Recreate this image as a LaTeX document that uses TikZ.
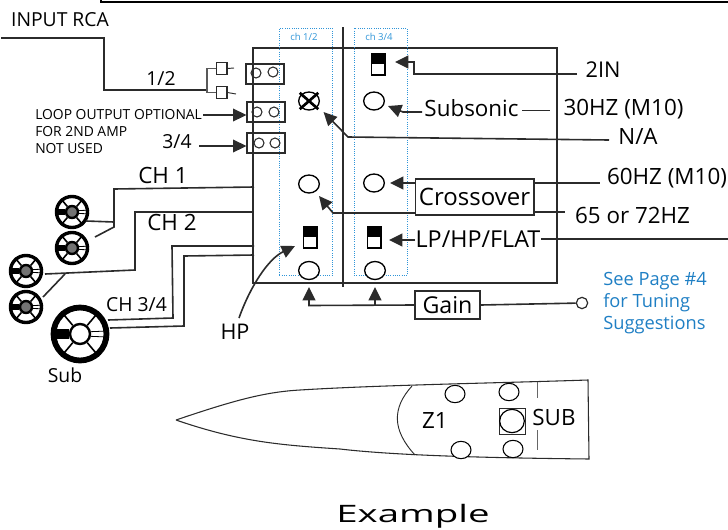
\documentclass[tikz,border=0pt]{standalone}
\usepackage{fontspec}
\setmainfont{Open Sans}
\usetikzlibrary{arrows.meta,shapes.geometric}
\definecolor{wirecol}{HTML}{2B2B2B}
\definecolor{notecol}{HTML}{1F7FC4}
\definecolor{chancol}{HTML}{2F95D8}
\colorlet{spkAcol}{black!55}
\colorlet{spkBcol}{black!55}
\colorlet{spkCcol}{black!55}
\colorlet{spkDcol}{black!55}
\colorlet{subcol}{white}
\tikzset{
  lab/.style={inner sep=0pt, text=black, font=\fontsize{16.8}{19}\selectfont},
  lowlab/.style={lab, font=\fontsize{14.5}{17}\selectfont},
  smalllab/.style={lab, font=\fontsize{10.4}{12.7}\selectfont, align=left},
  knob/.style={draw=black, line width=1pt, ellipse, minimum width=15.5pt,
    minimum height=13.5pt, inner sep=0pt, fill=white},
  jack/.style={draw=wirecol, line width=0.8pt, circle, minimum size=7.5pt, inner sep=0pt},
  rcabox/.style={draw=wirecol, line width=0.9pt, minimum width=28.5pt, minimum height=15pt, inner sep=0pt},
  plug/.style={draw=wirecol, line width=0.8pt, minimum width=8.2pt, minimum height=9.5pt, inner sep=0pt},
  ctrl/.style={draw=wirecol, line width=1pt, inner sep=0pt, text=black, fill=white},
  wire/.style={draw=wirecol, line width=1.2pt},
  arr/.style={wire, -{Triangle[length=10pt, width=9.5pt]}},
  chbox/.style={draw=chancol, line width=0.7pt, densely dotted},
  chlab/.style={inner sep=0pt, text=chancol, font=\fontsize{7.2}{8}\selectfont},
  note/.style={inner sep=0pt, text=notecol, align=left, font=\fontsize{13.7}{16.5}\selectfont}}
\newcommand{\switchbox}[3]{% name, x, y of the upper left corner
  \node[draw=black, line width=1.1pt, minimum width=10pt, minimum height=16pt, inner sep=0pt, anchor=north west] (#1) at (#2,#3) {};
  \fill[black] (#1.north west) rectangle (#1.east);}
\newcommand{\speaker}[5]{% name, x, y, radius, hub radius
  \node[draw=black, circle, line width=#4*0.15pt, minimum size=#4*1.37pt, inner sep=0pt, fill=white] (#1) at (#2,#3) {};
  \node[draw=black, circle, line width=1.8pt, minimum size=#5*1.5pt, inner sep=0pt, fill=#1col] (#1hub) at (#2,#3) {};
  \foreach \a in {50,130,230,310}
    \draw[black, line width=1.2pt] (#1hub.\a) -- (#1.\a);
  \draw[black, line width=#4*0.25pt] (#1.west) -- (#1hub.west);
  \draw[black, line width=0.6pt] (#1hub.12) -- (#1.6) (#1hub.-12) -- (#1.-6);}

\begin{document}
\begin{tikzpicture}[x=0.75pt, y=-0.75pt]
  \useasboundingbox (0,0) rectangle (728,529);
  % top frame edge
  \coordinate (ta) at (101,0);
  \coordinate (tb) at (101,2);
  \coordinate (tc) at (728,2);
  \draw[black, line width=1.5pt] (ta) -- (tb) -- (tc);
  % amp
  \node[draw=wirecol, line width=1.2pt, minimum width=228pt, minimum height=176.5pt, inner sep=0pt, anchor=north west] (amp) at (252,47) {};
  \node[chbox, minimum width=39.75pt, minimum height=185.25pt, inner sep=0pt, anchor=north west] (cha) at (279,28) {};
  \node[chbox, minimum width=40pt, minimum height=185.25pt, inner sep=0pt, anchor=north west] (chb) at (353.5,28) {};
  \node[chlab] (chalab) at (304,37) {ch 1/2};
  \node[chlab] (chblab) at (379,37) {ch 3/4};
  \coordinate (mida) at (343,27);
  \coordinate (midb) at (343,287);
  \draw[wire] (mida) -- (midb);
  % input side
  \node[lowlab] (rca) at (60,20) {INPUT RCA};
  \node[lowlab] (ra) at (161,78) {1/2};
  \node[lowlab] (rb) at (177,142) {3/4};
  \node[smalllab, anchor=north west] (loop) at (35,109) {LOOP OUTPUT OPTIONAL\\FOR 2ND AMP\\NOT USED};
  \node[rcabox] (ba) at (265,74) {};
  \node[rcabox] (bb) at (266,112) {};
  \node[rcabox] (bc) at (266,143) {};
  \node[jack] (ja) at (256,73) {};
  \node[jack] (jb) at (273,72) {};
  \node[jack] (jc) at (257,112) {};
  \node[jack] (jd) at (274,112) {};
  \node[jack] (je) at (259,143) {};
  \node[jack] (jf) at (275,143) {};
  \node[plug] (pa) at (221.5,68.5) {};
  \node[plug] (pb) at (221.5,92.5) {};
  \coordinate (wa) at (1,38);
  \coordinate (wb) at (104,38);
  \coordinate (wc) at (104,90);
  \coordinate (wd) at (207,90);
  \draw[wire] (wa) -- (wb) -- (wc) -- (wd);
  \draw[draw=black!65, line width=1pt] (pa.west) -| (wd) |- (pb.west);
  \coordinate (pae) at (234,68);
  \coordinate (pbe) at (236,94);
  \draw[wire, line width=0.7pt] (pa.east) -- (pae);
  \draw[wire, line width=0.7pt] (pb.east) -- (pbe);
  \coordinate (la) at (203,115);
  \coordinate (lb) at (199,146);
  \draw[arr] (la) -- (la -| bb.west);
  \draw[arr] (lb) -- (lb -| bc.west);
  % knobs and switches
  \node[knob] (kx) at (309,101) {};
  \draw[black, line width=2pt, shorten >=-1.5pt, shorten <=-1.5pt] (kx.north west) -- (kx.south east);
  \draw[black, line width=2pt, shorten >=-1.5pt, shorten <=-1.5pt] (kx.north east) -- (kx.south west);
  \node[knob] (ka) at (309,184) {};
  \node[knob] (kb) at (309,270.5) {};
  \node[knob] (kc) at (374,101) {};
  \node[knob] (kd) at (374,183) {};
  \node[knob] (ke) at (375,270.5) {};
  \switchbox{sa}{371}{53}
  \switchbox{sb}{303}{226}
  \switchbox{sc}{367}{226}
  % labels on the right
  \node[lab, font=\fontsize{16.3}{19}\selectfont] (twoin) at (603,70) {2IN};
  \node[lab] (sonic) at (471.5,108) {Subsonic};
  \node[lab] (hza) at (623.5,109) {30HZ (M10)};
  \node[lab] (nalab) at (638,136) {N/A};
  \node[ctrl, minimum width=89pt, minimum height=27pt, font=\fontsize{18}{20}\selectfont] (xo) at (474.5,197) {Crossover};
  \node[lab] (hzb) at (667,178) {60HZ (M10)};
  \node[lab] (hzc) at (632.5,215) {65 or 72HZ};
  \node[lab, font=\fontsize{17.5}{19}\selectfont] (lp) at (478,239) {LP/HP/FLAT};
  \node[ctrl, minimum width=48.75pt, minimum height=21pt, font=\fontsize{17.4}{19}\selectfont] (gain) at (447.5,305) {Gain};
  \node[draw=wirecol, line width=0.9pt, circle, minimum size=8.5pt, inner sep=0pt] (post) at (582,303) {};
  \node[note, anchor=north west] (see) at (603,272) {See Page \#4\\for Tuning\\Suggestions};
  % leaders
  \coordinate (na) at (414,74);
  \coordinate (nb) at (414,62);
  \coordinate (nc) at (395,62);
  \coordinate (nd) at (577,74);
  \draw[arr] (nd) -- (na) -- (nb) -- (nc);
  \coordinate (sa1) at (422,112);
  \coordinate (sa2) at (403,112);
  \coordinate (sa3) at (388,106);
  \draw[arr] (sa1) -- (sa2) -- (sa3);
  \coordinate (sb1) at (522,110.5);
  \coordinate (sb2) at (550,110.5);
  \draw[wire] (sb1) -- (sb2);
  \coordinate (xa) at (609,140);
  \coordinate (xb) at (348,137);
  \coordinate (xc) at (323.5,112);
  \draw[arr] (xa) -- (xb) -- (xc);
  \coordinate (ya) at (415,183);
  \coordinate (yb) at (390,183);
  \draw[arr] (ya) -- (yb);
  \coordinate (yc) at (534,183);
  \coordinate (yd) at (600,183);
  \draw[wire] (yc) -- (yd);
  \coordinate (ye) at (534,212);
  \coordinate (yf) at (565,212);
  \draw[wire] (ye) -- (yf);
  \coordinate (yg) at (415,213);
  \coordinate (yh) at (333,213);
  \coordinate (yi) at (319,196);
  \draw[arr] (yg) -- (yh) -- (yi);
  \coordinate (za) at (415,240);
  \coordinate (zb) at (389,240);
  \draw[arr] (za) -- (zb);
  \coordinate (zc) at (541,239);
  \coordinate (zd) at (728,239);
  \draw[wire] (zc) -- (zd);
  \coordinate (ga) at (309,305.5);
  \coordinate (gb) at (309,287);
  \coordinate (gc) at (375,305.5);
  \coordinate (gd) at (375,287);
  \draw[arr] (gain.west) -- (ga) -- (gb);
  \draw[arr] (gc) -- (gd);
  \draw[wire] (gain.east) -- (post);
  \node[lab, font=\fontsize{16.2}{19}\selectfont] (hp) at (235,332) {HP};
  \coordinate (hpa) at (239,318);
  \coordinate (hpb) at (295,246);
  \draw[arr] (hpa) .. controls (250,287) and (268,259) .. (hpb);
  % speakers
  \speaker{spkA}{72}{212}{17}{6}
  \speaker{spkB}{72}{248}{17}{6}
  \speaker{spkC}{26}{271}{17}{6}
  \speaker{spkD}{26}{307}{17}{6}
  \speaker{sub}{80}{334}{29}{10}
  \node[lab] (cha1) at (163,175) {CH 1};
  \node[lab] (cha2) at (172,222) {CH 2};
  \node[lowlab] (cha3) at (136.5,305) {CH 3/4};
  \node[lowlab] (sublab) at (65,375) {Sub};
  \coordinate (a1) at (254,187);
  \coordinate (a2) at (114,189);
  \coordinate (a3) at (114,227);
  \coordinate (a4) at (95,237);
  \coordinate (a5) at (86,221);
  \coordinate (a6) at (114,222);
  \draw[wire] (a1) -- (a2) -- (a3) -- (a4);
  \draw[wire] (a5) -- (a6);
  \coordinate (b1) at (252,212);
  \coordinate (b2) at (135,212);
  \coordinate (b3) at (135,270);
  \coordinate (b4) at (45,274);
  \coordinate (b5) at (65,274);
  \coordinate (b6) at (43,297);
  \draw[wire] (b1) -- (b2) -- (b3) -- (b4);
  \draw[wire] (b5) -- (b6);
  \coordinate (c1) at (254,246);
  \coordinate (c2) at (172,246);
  \coordinate (c3) at (173,318);
  \coordinate (c4) at (108,320);
  \draw[wire] (c1) -- (c2) -- (c3) -- (c4);
  \coordinate (d1) at (254,255);
  \coordinate (d2) at (184,256);
  \coordinate (d3) at (184,326);
  \coordinate (d4) at (110,328);
  \draw[wire] (d1) -- (d2) -- (d3) -- (d4);
  % hull
  \coordinate (bow) at (176,420);
  \coordinate (sta) at (588,380);
  \coordinate (stb) at (589,459);
  \draw[draw=wirecol, line width=0.8pt] (bow) .. controls (235,400) and (265,392) .. (300,390)
    .. controls (380,385) and (500,383) .. (sta) -- (stb)
    .. controls (500,458) and (400,456) .. (340,449)
    .. controls (280,445) and (240,442) .. (bow);
  \coordinate (za1) at (412,386);
  \coordinate (za2) at (415,455);
  \draw[draw=wirecol, line width=0.7pt] (za1) .. controls (392,408) and (392,430) .. (za2);
  \node[knob, minimum width=15pt, minimum height=13pt, line width=0.8pt] (hulla) at (455,394) {};
  \node[knob, minimum width=15pt, minimum height=13pt, line width=0.8pt] (hullb) at (509,392) {};
  \node[knob, minimum width=15pt, minimum height=13pt, line width=0.8pt] (hullc) at (461,450) {};
  \node[knob, minimum width=15pt, minimum height=13pt, line width=0.8pt] (hulld) at (513,449) {};
  \node[draw=wirecol, line width=0.7pt, minimum size=19.5pt, inner sep=0pt] (hullsq) at (512.5,421) {};
  \node[draw=black, line width=0.9pt, ellipse, minimum width=18.5pt, minimum height=17.5pt, inner sep=0pt] (hullsub) at (512,421) {};
  \node[lab] (hullz) at (435,420) {Z1};
  \node[lab] (hulls) at (554,417) {SUB};
  \coordinate (ha) at (537,382);
  \coordinate (hb) at (537,398);
  \coordinate (hc) at (537,430);
  \coordinate (hd) at (537,450);
  \draw[draw=black!60, line width=0.7pt] (ha) -- (hb) (hc) -- (hd);
  \node[lab, font=\fontsize{18}{20}\selectfont, xscale=1.6] (ex) at (413,516) {Example};
\end{tikzpicture}
\end{document}
